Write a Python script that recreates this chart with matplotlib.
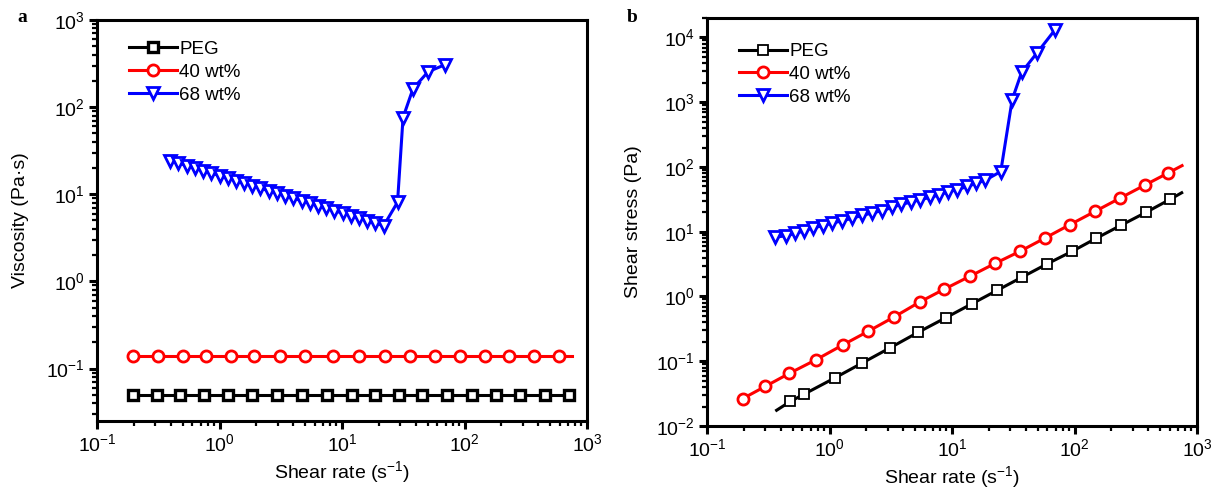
import matplotlib
matplotlib.use('Agg')
import matplotlib.pyplot as plt
from matplotlib.ticker import LogLocator, NullFormatter

plt.rcParams['font.family'] = ['Liberation Sans', 'DejaVu Sans']
plt.rcParams['mathtext.fontset'] = 'custom'
plt.rcParams['mathtext.rm'] = 'Liberation Sans'
plt.rcParams['mathtext.it'] = 'Liberation Sans:italic'
plt.rcParams['mathtext.bf'] = 'Liberation Sans:bold'
plt.rcParams['axes.unicode_minus'] = False

labels = ['PEG', '40 wt%', '68 wt%']

# (a) viscosity vs shear rate
visc_peg_x = [0.195, 0.31, 0.48, 0.75, 1.18, 1.84, 2.95, 4.7, 7.6, 12, 18.7, 29, 45, 72,
              115, 180, 284, 454, 710]
visc_peg_y = [0.05] * 19
visc_40_x = [0.195, 0.316, 0.50, 0.78, 1.23, 1.92, 3.1, 5.0, 8.5, 13.8, 22.4, 35.6, 57, 91.6,
             147, 232, 370, 590, 750]
visc_40_y = [0.138] * 19
visc_68_x = [0.396, 0.462, 0.540, 0.630, 0.735, 0.857, 1.00, 1.17, 1.36, 1.59, 1.85, 2.16,
             2.52, 2.94, 3.44, 4.01, 4.68, 5.46, 6.37, 7.43, 8.67, 10.1, 11.8, 13.8, 16.1,
             18.7, 21.9, 28.4, 31.5, 38, 50.5, 69]
visc_68_y = [24.3, 22.8, 21.3, 19.9, 18.7, 17.5, 16.4, 15.3, 14.3, 13.4, 12.6, 11.7, 11.0,
             10.3, 9.64, 9.03, 8.45, 7.91, 7.40, 6.93, 6.49, 6.07, 5.69, 5.32, 4.98, 4.66,
             4.36, 8.1, 76, 163, 255, 306]

# (b) shear stress vs shear rate
stress_peg_x = [0.37, 0.48, 0.62, 1.1, 1.85, 3.1, 5.3, 8.9, 14.5, 23.5, 37.5, 60, 96, 150,
                240, 385, 600, 750]
stress_peg_y = [0.0175, 0.024, 0.031, 0.055, 0.094, 0.16, 0.28, 0.47, 0.77, 1.25, 2.0, 3.2,
                5.0, 7.9, 12.6, 20, 31.5, 40]
stress_40_x = [0.195, 0.30, 0.47, 0.78, 1.28, 2.07, 3.35, 5.5, 8.6, 13.9, 22.6, 36, 57.5, 92,
               147, 235, 376, 575, 755]
stress_40_y = [0.0264, 0.041, 0.065, 0.106, 0.178, 0.29, 0.48, 0.83, 1.29, 2.04, 3.26, 5.0,
               8.0, 12.9, 20.6, 33, 52.6, 80, 105]
stress_68_x = [0.359, 0.442, 0.523, 0.619, 0.733, 0.885, 1.047, 1.264, 1.526, 1.84, 2.22,
               2.68, 3.24, 3.84, 4.63, 5.48, 6.61, 7.83, 9.27, 11.0, 13.3, 15.7, 18.6, 25,
               31, 37, 49.5, 69]
stress_68_y = [8.2, 8.7, 9.4, 10.3, 11.5, 12.4, 13.6, 14.7, 16.1, 17.9, 19.4, 21.2, 23.7,
               26.5, 28.6, 31.3, 33.8, 37, 41.3, 44.6, 50, 55.8, 62.2, 85, 1100, 2900, 5800,
               13000]


def style_axes(ax, ylim):
    ax.set_xscale('log')
    ax.set_yscale('log')
    ax.set_xlim(0.1, 1000)
    ax.set_ylim(*ylim)
    for s in ax.spines.values():
        s.set_linewidth(2.2)
    for axis in (ax.xaxis, ax.yaxis):
        axis.set_major_locator(LogLocator(base=10, numticks=20))
        axis.set_minor_locator(LogLocator(base=10, subs=range(2, 10), numticks=20))
        axis.set_minor_formatter(NullFormatter())
    ax.tick_params(which='major', direction='out', length=6, width=2.2, labelsize=14,
                   top=False, right=False, pad=3)
    ax.tick_params(which='minor', direction='out', length=3.5, width=1.6,
                   top=False, right=False)
    ax.set_xlabel('Shear rate (s$^{-1}$)', fontsize=14, labelpad=3)


def draw_series(ax, x, y, color, marker, ms, mew, every=None):
    ax.plot(x, y, color=color, lw=2.2, marker=marker, ms=ms, mew=mew,
            mfc='white', mec=color, markevery=every, clip_on=False)


fig = plt.figure(figsize=(12.22, 4.9), dpi=100)
ax1 = fig.add_axes([97 / 1222, 1 - 421 / 490, 490 / 1222, 401 / 490])
ax2 = fig.add_axes([707 / 1222, 1 - 426 / 490, 490 / 1222, 408 / 490])

style_axes(ax1, (0.025, 1000))
draw_series(ax1, visc_peg_x, visc_peg_y, 'black', 's', 7.5, 2.4)
draw_series(ax1, visc_40_x, visc_40_y, '#ff0000', 'o', 8, 2.0, slice(0, -1))
draw_series(ax1, visc_68_x, visc_68_y, '#0000ff', 'v', 9, 2.0)
ax1.set_ylabel('Viscosity (Pa\u00b7s)', fontsize=14, labelpad=12)
ax1.legend(labels, loc='upper left', bbox_to_anchor=(0.03, 0.99), frameon=False,
           fontsize=13.5, handlelength=2.6, handletextpad=0.1, labelspacing=0.3)

style_axes(ax2, (0.01, 2e4))
draw_series(ax2, stress_peg_x, stress_peg_y, 'black', 's', 7.5, 1.3, slice(1, -1))
draw_series(ax2, stress_40_x, stress_40_y, '#ff0000', 'o', 8, 2.0, slice(0, -1))
draw_series(ax2, stress_68_x, stress_68_y, '#0000ff', 'v', 9, 2.0)
ax2.set_ylabel('Shear stress (Pa)', fontsize=14, labelpad=10)
ax2.legend(labels, loc='upper left', bbox_to_anchor=(0.03, 0.98), frameon=False,
           fontsize=13.5, handlelength=2.6, handletextpad=0.1, labelspacing=0.3)

fig.text(22 / 1222, 1 - 18 / 490, 'a', fontsize=14, fontweight='bold',
         family='Liberation Serif', ha='center', va='center')
fig.text(632 / 1222, 1 - 17 / 490, 'b', fontsize=14, fontweight='bold',
         family='Liberation Serif', ha='center', va='center')

fig.savefig('out.png', dpi=100)
